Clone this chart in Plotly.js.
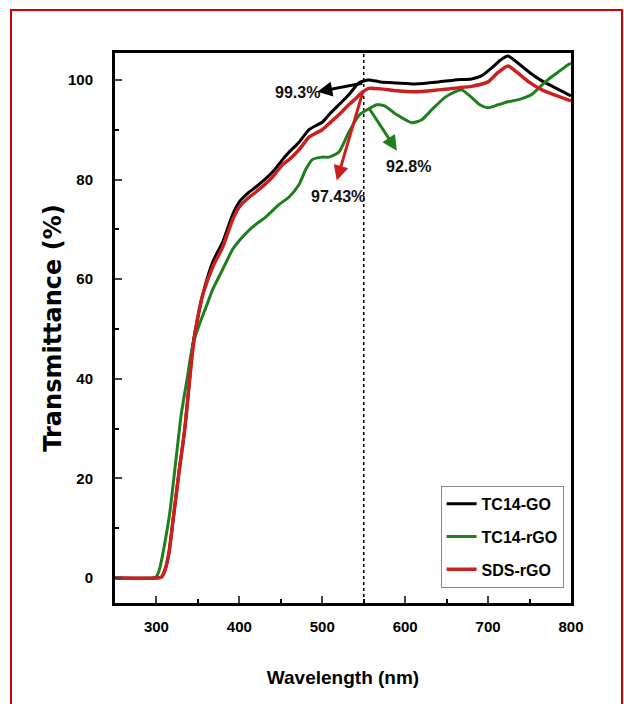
<!DOCTYPE html>
<html>
<head>
<meta charset="utf-8">
<script src="https://cdn.plot.ly/plotly-3.0.1.min.js"></script>
<style>
  html, body { margin: 0; padding: 0; background: #fff; overflow: hidden; }
  #wrap { position: relative; width: 624px; height: 704px; }
  #chart { width: 624px; height: 704px; }
  #frame { position: absolute; left: 10px; top: 9px; width: 609px; height: 720px;
           border: 2px solid #d40000; pointer-events: none; }
</style>
</head>
<body>
<div id="wrap"><div id="chart"></div><div id="frame"></div></div>
<script>
// ---- data ----
const seriesNames = ["TC14-GO", "TC14-rGO", "SDS-rGO"];

const wlGO = [250, 300, 306, 310, 315, 320, 327, 334, 340, 344, 356, 368, 380, 392, 400, 412, 420, 440, 452, 460, 472, 484, 492, 500, 508, 520, 532, 544, 556, 570, 590, 612, 640, 660, 680, 692, 705, 715, 724, 735, 750, 765, 780, 800];
const tGO  = [0, 0, 0.2, 1.5, 5, 11.6, 21, 29.7, 39.8, 47, 57, 63.5, 67.5, 73, 75.5, 77.5, 78.5, 81.5, 84, 85.5, 87.5, 90, 90.8, 91.5, 93, 95, 97, 99.4, 100, 99.6, 99.4, 99.2, 99.6, 100, 100.2, 100.8, 102.5, 104, 104.8, 103.5, 101.5, 99.8, 98.5, 96.8];

const wlTrGO = [250, 296, 300, 304, 310, 316, 323, 330, 337, 344, 352, 360, 368, 380, 392, 404, 416, 432, 448, 460, 472, 480, 488, 500, 508, 520, 532, 545, 556, 566, 575, 590, 608, 620, 632, 648, 660, 668, 680, 690, 700, 712, 724, 740, 752, 762, 772, 784, 796, 800];
const tTrGO  = [0, 0, 0.3, 2, 7, 13, 23, 33, 40, 47, 51, 54.5, 58, 62, 66, 68.5, 70.5, 72.5, 75, 76.5, 79, 82, 84, 84.5, 84.5, 85.5, 89.5, 93, 94.2, 95, 94.8, 93, 91.4, 92, 94, 96.5, 97.6, 98, 96.5, 95, 94.4, 95, 95.6, 96.2, 97, 98.5, 100, 101.5, 103, 103.3];

const wlSDS = [250, 300, 306, 310, 315, 320, 327, 334, 340, 344, 350, 356, 368, 380, 392, 400, 412, 420, 440, 452, 460, 472, 484, 492, 500, 508, 520, 532, 540, 548, 556, 570, 590, 612, 640, 664, 680, 700, 712, 724, 735, 750, 765, 780, 800];
const tSDS  = [0, 0, 0.2, 1.5, 5, 11.6, 21, 29.7, 39.8, 46, 52.5, 57, 62.5, 66.5, 72, 74.5, 76.5, 77.5, 80.5, 83, 84, 86, 88.5, 89.3, 90, 91.2, 93, 95, 96.2, 97.5, 98.3, 98.2, 97.8, 97.6, 98, 98.4, 98.7, 99.6, 101.5, 102.8, 101.5, 99.5, 98, 97, 95.8];

const xTicks = [300, 400, 500, 600, 700, 800];
const yTicks = [0, 20, 40, 60, 80, 100];
const markerWavelength = 550;

// callouts: [text, textX, textY, tailX, tailY, headX, headY, seriesIndex]
const callouts = [
  ["99.3%", 470, 97.4, 550, 99.4, 494, 97.6, 0],
  ["97.43%", 519, 76.5, 550, 98.2, 517.5, 79.8, 2],
  ["92.8%", 604, 82.6, 556, 94.4, 590, 85.8, 1]
];
// ---------------------------------------

const colors = ["#000000", "#1f7f1f", "#cc2020"];
const widths = [3, 3, 3.5];
const xs = [wlGO, wlTrGO, wlSDS];
const ys = [tGO, tTrGO, tSDS];

const FONT = "'Liberation Sans', Arial, sans-serif";

const traces = seriesNames.map((n, i) => ({
  x: xs[i], y: ys[i], name: n, type: "scatter", mode: "lines",
  line: { color: colors[i], width: widths[i], shape: "spline", smoothing: 0.6 },
  legendgroup: "g" + i
}));

const annotations = [];
callouts.forEach((c) => {
  annotations.push({
    x: c[1], y: c[2], xref: "x", yref: "y", text: "<b>" + c[0] + "</b>", showarrow: false,
    font: { family: FONT, size: 16, color: "#111" }
  });
  annotations.push({
    x: c[5], y: c[6], xref: "x", yref: "y", ax: c[3], ay: c[4], axref: "x", ayref: "y",
    text: "", showarrow: true, arrowhead: 2, arrowsize: 1, arrowwidth: 3,
    arrowcolor: colors[c[7]]
  });
});

const layout = {
  width: 624, height: 704,
  paper_bgcolor: "#fff", plot_bgcolor: "#fff",
  margin: { l: 115, r: 53, t: 53, b: 101 },
  showlegend: true,
  legend: {
    x: 0.714, y: 0.213, xanchor: "left", yanchor: "top",
    bordercolor: "#888", borderwidth: 1, bgcolor: "#fff",
    font: { family: FONT, size: 16, color: "#000", weight: "bold" },
    tracegroupgap: 9
  },
  xaxis: {
    range: [250, 800], tickvals: xTicks, ticks: "inside", ticklen: 7, tickwidth: 2,
    showline: true, linewidth: 3, linecolor: "#000", mirror: true,
    showgrid: false, zeroline: false, ticklabelstandoff: 8,
    minor: { dtick: 50, tick0: 250, ticks: "inside", ticklen: 4, tickwidth: 2, tickcolor: "#000" },
    tickfont: { family: FONT, size: 15, color: "#000", weight: "bold" },
    title: { text: "<b>Wavelength (nm)</b>", font: { family: FONT, size: 19, color: "#000" }, standoff: 37 }
  },
  yaxis: {
    range: [-5, 105.4], tickvals: yTicks, ticks: "inside", ticklen: 7, tickwidth: 2,
    showline: true, linewidth: 3, linecolor: "#000", mirror: true,
    showgrid: false, zeroline: false, ticklabelstandoff: 16,
    minor: { dtick: 10, tick0: 0, ticks: "inside", ticklen: 4, tickwidth: 2, tickcolor: "#000" },
    tickfont: { family: FONT, size: 15, color: "#000", weight: "bold" },
    title: { text: "<b>Transmittance (%)</b>", font: { family: "'DejaVu Sans', Arial, sans-serif", size: 24, color: "#000" }, standoff: 0 }
  },
  shapes: [{
    type: "line", xref: "x", yref: "paper", x0: markerWavelength, x1: markerWavelength, y0: 0, y1: 1,
    line: { color: "#000", width: 1.5, dash: "dot" }, layer: "below"
  }],
  annotations: annotations
};

Plotly.newPlot("chart", traces, layout, { displayModeBar: false, staticPlot: true });
</script>
</body>
</html>
